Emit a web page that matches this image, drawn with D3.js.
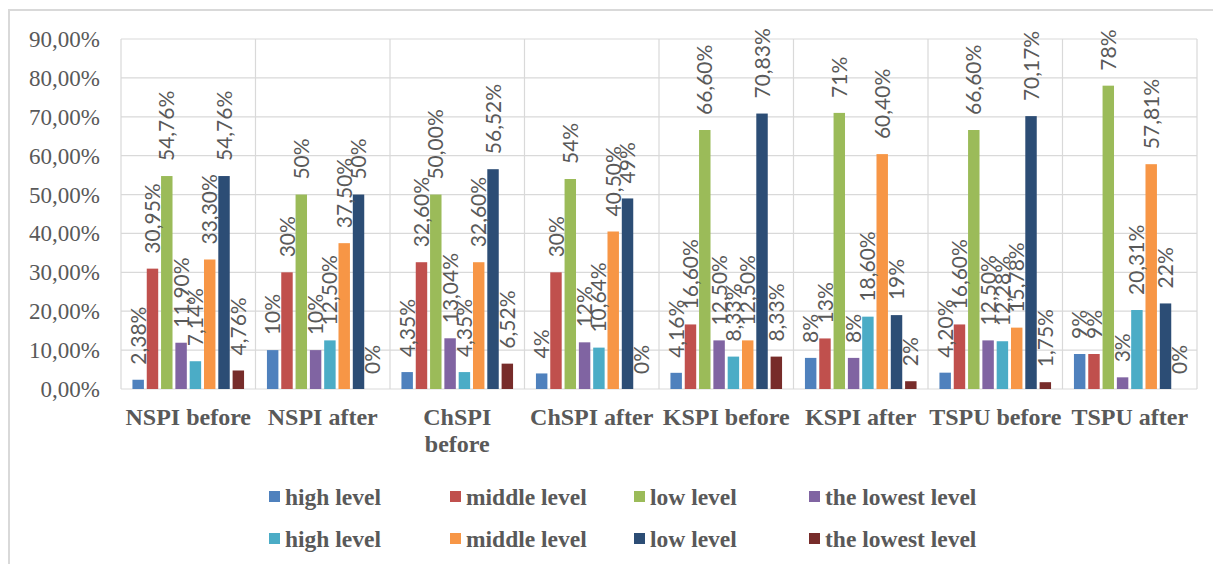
<!DOCTYPE html>
<html>
<head>
<meta charset="utf-8">
<script src="https://cdn.jsdelivr.net/npm/d3@7"></script>
<style>
    body { margin: 0; background: #fff; }
    svg text { fill: #595959; }
</style>
</head>
<body>
<svg id="chart" width="1213" height="564"></svg>
<script>
// categories along the x axis
var categories = ['NSPI before', 'NSPI after', 'ChSPI before', 'ChSPI after',
    'KSPI before', 'KSPI after', 'TSPU before', 'TSPU after'];

// series names (two sets of four levels)
var seriesNames = ['high level', 'middle level', 'low level', 'the lowest level',
    'high level', 'middle level', 'low level', 'the lowest level'];

// values per series, one per category (percent)
var highA    = [2.38, 10, 4.35, 4, 4.16, 8, 4.20, 9];
var middleA  = [30.95, 30, 32.60, 30, 16.60, 13, 16.60, 9];
var lowA     = [54.76, 50, 50.00, 54, 66.60, 71, 66.60, 78];
var lowestA  = [11.90, 10, 13.04, 12, 12.50, 8, 12.50, 3];
var highB    = [7.14, 12.50, 4.35, 10.64, 8.33, 18.60, 12.28, 20.31];
var middleB  = [33.30, 37.50, 32.60, 40.50, 12.50, 60.40, 15.78, 57.81];
var lowB     = [54.76, 50, 56.52, 49, 70.83, 19, 70.17, 22];
var lowestB  = [4.76, 0, 6.52, 0, 8.33, 2, 1.75, 0];

// data label texts as printed on the chart
var highALabels   = ['2,38%', '10%', '4,35%', '4%', '4,16%', '8%', '4,20%', '9%'];
var middleALabels = ['30,95%', '30%', '32,60%', '30%', '16,60%', '13%', '16,60%', '9%'];
var lowALabels    = ['54,76%', '50%', '50,00%', '54%', '66,60%', '71%', '66,60%', '78%'];
var lowestALabels = ['11,90%', '10%', '13,04%', '12%', '12,50%', '8%', '12,50%', '3%'];
var highBLabels   = ['7,14%', '12,50%', '4,35%', '10,64%', '8,33%', '18,60%', '12,28%', '20,31%'];
var middleBLabels = ['33,30%', '37,50%', '32,60%', '40,50%', '12,50%', '60,40%', '15,78%', '57,81%'];
var lowBLabels    = ['54,76%', '50%', '56,52%', '49%', '70,83%', '19%', '70,17%', '22%'];
var lowestBLabels = ['4,76%', '0%', '6,52%', '0%', '8,33%', '2%', '1,75%', '0%'];

// y axis ticks
var yTicks = [0, 10, 20, 30, 40, 50, 60, 70, 80, 90];

var seriesValues = [highA, middleA, lowA, lowestA, highB, middleB, lowB, lowestB];
var seriesLabels = [highALabels, middleALabels, lowALabels, lowestALabels,
    highBLabels, middleBLabels, lowBLabels, lowestBLabels];
var colors = ['#4F81BD', '#C0504D', '#9BBB59', '#8064A2',
    '#4BACC6', '#F79646', '#2C4D75', '#772C2A'];

var svg = d3.select('#chart');
var plot = { left: 121, right: 1197, top: 39, bottom: 389 };
var serif = '"Liberation Serif", "Times New Roman", serif';

// outer chart frame (only left and top edges are visible)
svg.append('path')
    .attr('d', 'M9,564 V10 H1213')
    .attr('fill', 'none')
    .attr('stroke', '#d9d9d9')
    .attr('stroke-width', 2);

var y = d3.scaleLinear().domain([0, 90]).range([plot.bottom, plot.top]);
var x0 = d3.scaleBand().domain(d3.range(categories.length))
    .range([plot.left, plot.right]).padding(0);
var x1 = d3.scaleBand().domain(d3.range(seriesNames.length))
    .range([0, x0.bandwidth()]).paddingInner(0.2).paddingOuter(0.8);

// horizontal gridlines
svg.append('g').selectAll('line')
    .data(yTicks)
    .enter().append('line')
        .attr('x1', plot.left)
        .attr('x2', plot.right)
        .attr('y1', function(d) { return y(d); })
        .attr('y2', function(d) { return y(d); })
        .attr('stroke', '#d9d9d9')
        .attr('stroke-width', 1.2);

// vertical separators between categories
svg.append('g').selectAll('line')
    .data(d3.range(categories.length + 1))
    .enter().append('line')
        .attr('x1', function(d) { return plot.left + d * x0.bandwidth(); })
        .attr('x2', function(d) { return plot.left + d * x0.bandwidth(); })
        .attr('y1', plot.top)
        .attr('y2', plot.bottom)
        .attr('stroke', '#d9d9d9')
        .attr('stroke-width', 1.2);

// y axis labels
svg.append('g').selectAll('text')
    .data(yTicks)
    .enter().append('text')
        .attr('x', 100)
        .attr('y', function(d) { return y(d); })
        .attr('dy', '0.35em')
        .attr('text-anchor', 'end')
        .style('font-family', serif)
        .style('font-size', '23px')
        .text(function(d) { return d3.format('.2f')(d).replace('.', ',') + '%'; });

// bars
var cellData = function(d, ci) {
    return seriesValues.map(function(vals, si) {
        return { s: si, v: vals[ci], label: seriesLabels[si][ci] };
    });
};

var groups = svg.append('g').selectAll('g')
    .data(categories)
    .enter().append('g')
        .attr('transform', function(d, i) { return 'translate(' + x0(i) + ',0)'; });

groups.selectAll('rect')
    .data(cellData)
    .enter().append('rect')
        .attr('x', function(d) { return x1(d.s); })
        .attr('y', function(d) { return y(d.v); })
        .attr('width', x1.bandwidth())
        .attr('height', function(d) { return y(0) - y(d.v); })
        .attr('fill', function(d) { return colors[d.s]; });

// rotated data labels
groups.selectAll('text')
    .data(cellData)
    .enter().append('text')
        .attr('transform', function(d) {
            return 'translate(' + (x1(d.s) + x1.bandwidth() / 2) + ',' + (y(d.v) - 15) + ') rotate(-90)';
        })
        .attr('dy', '0.36em')
        .attr('text-anchor', 'start')
        .style('font-family', 'Lato, "Liberation Sans", sans-serif')
        .style('font-size', '21px')
        .text(function(d) { return d.label; });

// category labels; a label wider than its band wraps onto two lines
var catLabels = svg.append('g').selectAll('text')
    .data(categories)
    .enter().append('text')
        .attr('text-anchor', 'middle')
        .style('font-family', serif)
        .style('font-size', '24px')
        .style('font-weight', 'bold');

catLabels.each(function(d, i) {
    var t = d3.select(this);
    var cx = x0(i) + x0.bandwidth() / 2;
    var lines = [d];
    t.text(d);
    if (t.node().getComputedTextLength() > x0.bandwidth())
        lines = d.split(' ');
    t.text(null);
    lines.forEach(function(line, k) {
        t.append('tspan')
            .attr('x', cx)
            .attr('y', 425 + k * 27)
            .text(line);
    });
});

// legend
var legendCols = [269, 450, 634, 809];
var legendRows = [497, 539];
var legend = svg.append('g').selectAll('g')
    .data(seriesNames)
    .enter().append('g')
        .attr('transform', function(d, i) {
            return 'translate(' + legendCols[i % 4] + ',' + legendRows[Math.floor(i / 4)] + ')';
        });

legend.append('rect')
    .attr('x', 0)
    .attr('y', -6)
    .attr('width', 11)
    .attr('height', 11)
    .attr('fill', function(d, i) { return colors[i]; });

legend.append('text')
    .attr('x', 16)
    .attr('dy', '0.35em')
    .style('font-family', serif)
    .style('font-size', '23.5px')
    .style('font-weight', 'bold')
    .text(function(d) { return d; });
</script>
</body>
</html>
